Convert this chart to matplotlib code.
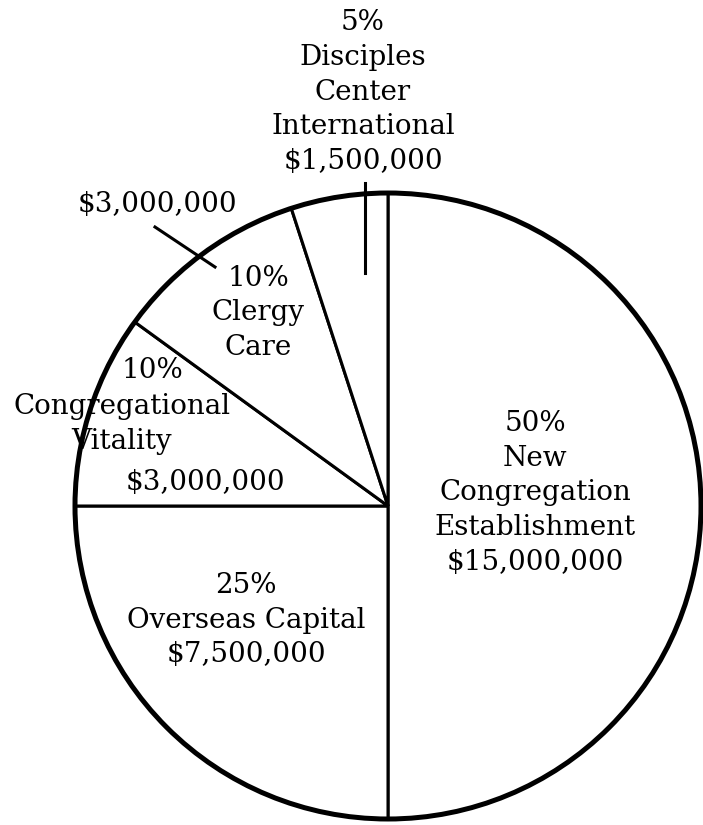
import matplotlib.pyplot as plt
from matplotlib.patches import Circle

# capital campaign split
names = ["New\nCongregation\nEstablishment", "Overseas Capital",
         "Congregational\nVitality", "Clergy\nCare",
         "Disciples\nCenter\nInternational"]
percents = [50, 25, 10, 10, 5]
amounts = [15000000, 7500000, 3000000, 3000000, 1500000]

W, H = 703, 825
plt.rcParams['font.family'] = ['DejaVu Serif']
fig = plt.figure(figsize=(W / 100, H / 100), dpi=100)
ax = fig.add_axes([0, 0, 1, 1])

cx, cy, r = 388, H - 506, 313
ax.pie(percents, startangle=90, counterclock=False, center=(cx, cy),
       radius=r, colors=['white'] * len(percents), frame=True,
       wedgeprops=dict(edgecolor='black', linewidth=2.2))
ax.add_patch(Circle((cx, cy), r, fill=False, edgecolor='black', linewidth=3.6, zorder=5))
ax.set_xlim(0, W)
ax.set_ylim(0, H)
ax.axis('off')


def money(v):
    return "${:,}".format(v)


def txt(x, y, s):
    ax.text(x, H - y, s, ha='center', va='center', fontsize=20,
            linespacing=1.38, color='black')


txt(535, 493, f"{percents[0]}%\n{names[0]}\n{money(amounts[0])}")
txt(246, 620, f"{percents[1]}%\n{names[1]}\n{money(amounts[1])}")
txt(152, 370, f"{percents[2]}%")
txt(122, 424, names[2])
txt(205, 483, money(amounts[2]))
txt(258, 313, f"{percents[3]}%\n{names[3]}")
txt(157, 205, money(amounts[3]))
txt(363, 92, f"{percents[4]}%\n{names[4]}\n{money(amounts[4])}")

# leader lines
ax.plot([155, 215], [H - 227, H - 267], color='black', linewidth=2.2)
ax.plot([365, 365], [H - 183, H - 273], color='black', linewidth=2.2)

fig.savefig("out.png", dpi=100)
